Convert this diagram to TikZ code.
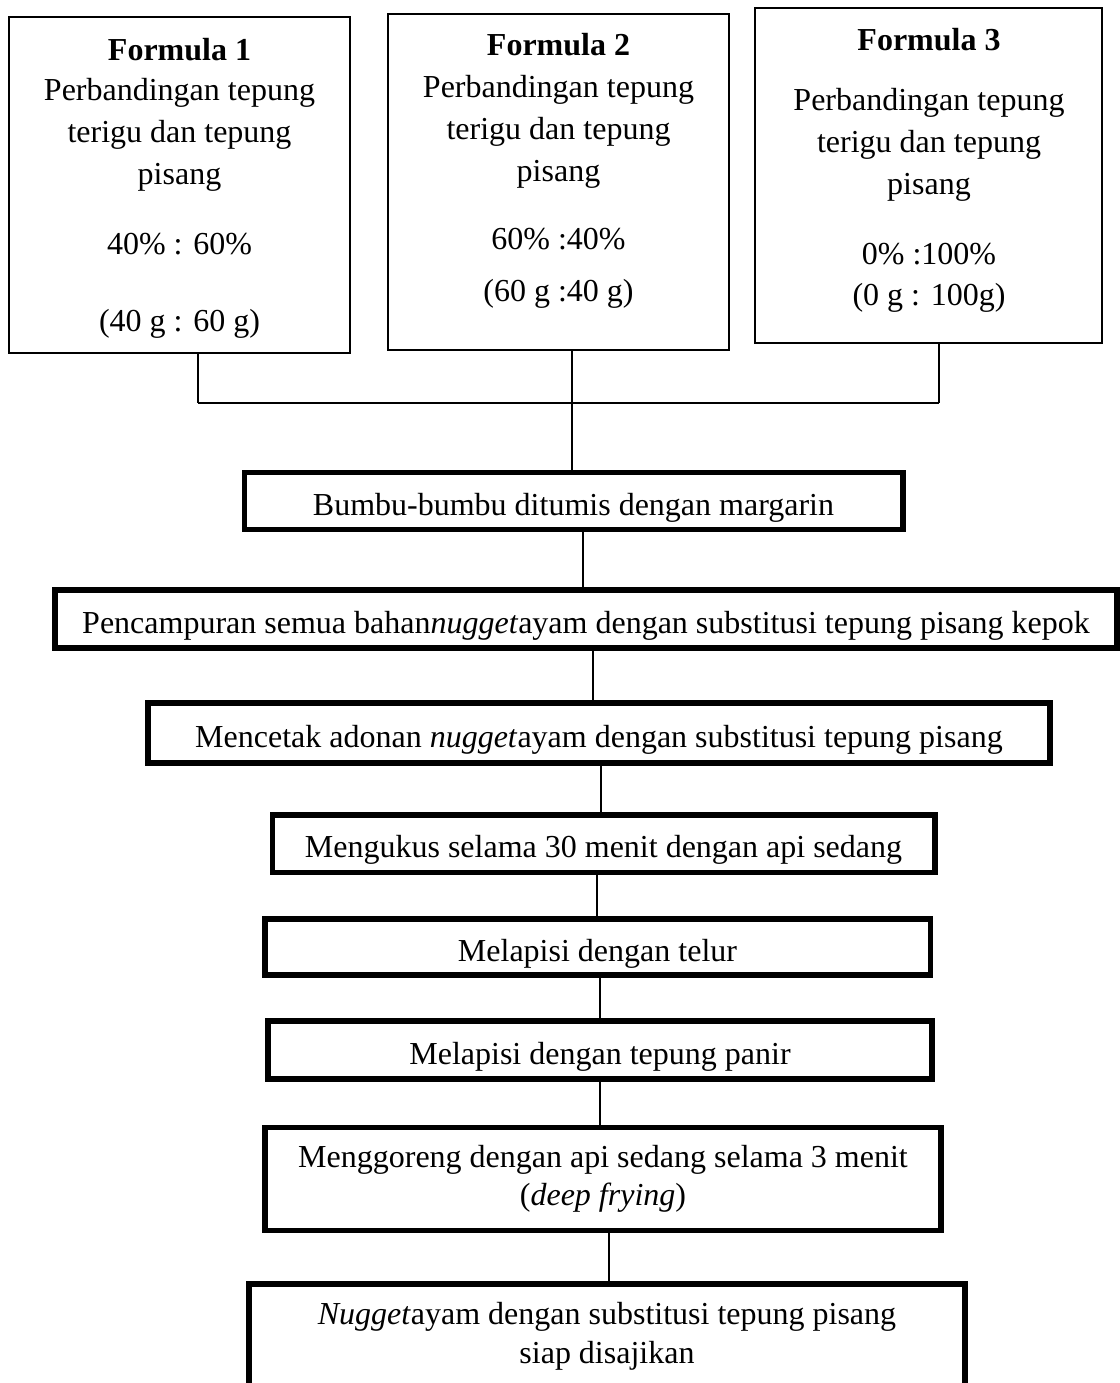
\documentclass[tikz,border=0pt]{standalone}
\usepackage{fontspec}
\setmainfont{Liberation Serif}
\begin{document}
\begin{tikzpicture}[
  x=0.375pt, y=-0.375pt,
  formbox/.style={rectangle, draw=black, line width=0.8pt, inner sep=0pt},
  formtext/.style={anchor=north, align=center, inner sep=0pt, font=\fontsize{12}{15.75}\selectfont},
  stepbox/.style={rectangle, draw=black, line width=1.9pt, align=center, inner sep=0pt, font=\fontsize{12}{14.5}\selectfont},
  onestep/.style={stepbox, text height=10.5pt, text depth=0pt},
  link/.style={line width=0.9pt, draw=black}
]
  \useasboundingbox (0,0) rectangle (1120,1383);
  \clip (0,0) rectangle (1120,1383);

  % Kotak formula (atas)
  \node[formbox, minimum width=127.9pt, minimum height=126pt] (f1) at (179.5,185) {};
  \node[formbox, minimum width=127.9pt, minimum height=126pt] (f2) at (558.5,182) {};
  \node[formbox, minimum width=130.1pt, minimum height=125.6pt] (f3) at (928.5,175.5) {};

  \node[formtext] (f1txt) at (179.5,38) {\textbf{Formula 1}\\[-0.75pt]Perbandingan tepung\\terigu dan tepung\\pisang\\[10.5pt]40\% : 60\%\\[13pt](40 g : 60 g)};
  \node[formtext] (f2txt) at (558.5,33) {\textbf{Formula 2}\\Perbandingan tepung\\terigu dan tepung\\pisang\\[9.75pt]60\% :40\%\\[3.75pt](60 g :40 g)};
  \node[formtext] (f3txt) at (929,28) {\textbf{Formula 3}\\[6.75pt]Perbandingan tepung\\terigu dan tepung\\pisang\\[10.5pt]0\% :100\%\\[-0.35pt](0 g : 100g)};

  % Langkah-langkah pembuatan
  \node[onestep, minimum width=247.1pt, minimum height=21.4pt] (bumbu) at (573.5,501) {Bumbu-bumbu ditumis dengan margarin};
  \node[onestep, minimum width=398.25pt, minimum height=21.75pt] (campur) at (586,619) {Pencampuran semua bahan\textit{nugget}ayam dengan substitusi tepung pisang kepok};
  \node[onestep, minimum width=338.25pt, minimum height=22.5pt] (cetak) at (599,733) {Mencetak adonan \textit{nugget}ayam dengan substitusi tepung pisang};
  \node[onestep, minimum width=248.6pt, minimum height=21.4pt] (kukus) at (603.5,843.5) {Mengukus selama 30 menit dengan api sedang};
  \node[onestep, minimum width=249.4pt, minimum height=21pt] (telur) at (597.5,947) {Melapisi dengan telur};
  \node[onestep, minimum width=249pt, minimum height=21.75pt] (panir) at (600,1050) {Melapisi dengan tepung panir};
  \node[stepbox, minimum width=253.5pt, minimum height=38.6pt] (goreng) at (603,1179) {Menggoreng dengan api sedang selama 3 menit\\(\textit{deep frying})};
  \node[stepbox, minimum width=268.5pt, minimum height=39pt] (saji) at (607,1336) {\textit{Nugget}ayam dengan substitusi tepung pisang\\siap disajikan};

  % Titik pertemuan garis
  \coordinate (j1) at (198,403);
  \coordinate (j2) at (572,403);
  \coordinate (j3) at (939,403);

  % Garis dari formula ke bumbu
  \draw[link] (f1.south -| j1) -- (j1);
  \draw[link] (f3.south -| j3) -- (j3);
  \draw[link] (j1) -- (j3);
  \draw[link] (f2.south -| j2) -- (bumbu.north -| j2);

  % Garis antar langkah
  \draw[link] (bumbu.south -| 583,0) -- (campur.north -| 583,0);
  \draw[link] (campur.south -| 593,0) -- (cetak.north -| 593,0);
  \draw[link] (cetak.south -| 601,0) -- (kukus.north -| 601,0);
  \draw[link] (kukus.south -| 597,0) -- (telur.north -| 597,0);
  \draw[link] (telur.south -| 600,0) -- (panir.north -| 600,0);
  \draw[link] (panir.south -| 600,0) -- (goreng.north -| 600,0);
  \draw[link] (goreng.south -| 609,0) -- (saji.north -| 609,0);

\end{tikzpicture}
\end{document}
